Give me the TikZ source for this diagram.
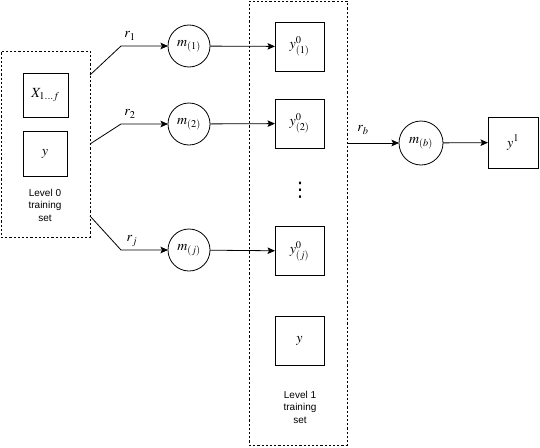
\documentclass[tikz,border=0pt]{standalone}
\usepackage{mathptmx}
\usepackage[no-math]{fontspec}
\setmainfont{Liberation Sans}
\newfontfamily\dvfont{DejaVu Sans}
\usetikzlibrary{arrows.meta}
\begin{document}
\begin{tikzpicture}[x=1pt,y=-1pt,
  every node/.style={inner sep=0pt, outer sep=0pt},
  dbox/.style={draw, dash pattern=on 2.2pt off 2pt, line width=0.8pt},
  sq/.style={draw, line width=0.8pt},
  circ/.style={draw, circle, line width=0.8pt, minimum size=42pt},
  conn/.style={line width=0.8pt, -{Stealth[length=7.5pt,width=6.5pt,inset=1.5pt]}},
  lbl/.style={font=\fontsize{10}{12.5}\selectfont, align=center},
  mth/.style={font=\fontsize{14}{16}\selectfont}
]
\useasboundingbox (0,0) rectangle (540,447);

% Level 0 training set
\node[dbox, minimum width=89pt, minimum height=186pt] (box0) at (45.5,144) {};
\node[sq, minimum width=45pt, minimum height=44pt, mth] (X) at (45.5,95) {$X_{1\ldots f}$};
\node[sq, minimum width=44pt, minimum height=45pt, mth] (yL) at (45,153.5) {$y$};
\node[lbl] (L0) at (45,205) {Level 0\\training\\set};

% models
\node[circ, mth] (m1) at (189,46) {$m_{(1)}$};
\node[circ, mth] (m2) at (189,124) {$m_{(2)}$};
\node[circ, mth] (mj) at (189,250) {$m_{(j)}$};

\coordinate (s1) at (90,75);
\coordinate (s2) at (90,144);
\coordinate (sj) at (90,216);
\coordinate (b1) at (121,46);
\coordinate (b2) at (121,124);
\coordinate (bj) at (121,250);

\draw[conn] (s1) -- (b1) -- (m1);
\draw[conn] (s2) -- (b2) -- (m2);
\draw[conn] (sj) -- (bj) -- (mj);

\node[mth] (r1) at (130,36) {$r_1$};
\node[mth] (r2) at (130,114) {$r_2$};
\node[mth] (rj) at (132,241) {$r_j$};

% Level 1 training set
\node[dbox, minimum width=98pt, minimum height=444pt] (box1) at (298,223) {};
\node[sq, minimum width=49pt, minimum height=49pt, mth] (y01) at (299.5,46.5) {$y^0_{(1)}$};
\node[sq, minimum width=49pt, minimum height=49pt, mth] (y02) at (299.5,123.5) {$y^0_{(2)}$};
\node[sq, minimum width=49pt, minimum height=49pt, mth] (y0j) at (299.5,251) {$y^0_{(j)}$};
\node[sq, minimum width=49pt, minimum height=49pt, mth] (yR) at (299.5,340.5) {$y$};
\node[font=\dvfont\fontsize{20}{22}\selectfont] (dots) at (300,190) {⋮};
\node[lbl] (L1) at (300,407) {Level 1\\training\\set};

\draw[conn] (m1) -- (y01);
\draw[conn] (m2) -- (y02);
\draw[conn] (mj) -- (y0j);

% meta model
\node[circ, minimum size=44pt, mth] (mb) at (421,143) {$m_{(b)}$};
\node[sq, minimum width=50pt, minimum height=51pt, mth] (y1) at (513,142.5) {$y^1$};
\draw[conn] (box1.east |- mb) -- (mb);
\draw[conn] (mb) -- (y1);
\node[mth] (rb) at (363,130) {$r_b$};
\end{tikzpicture}
\end{document}
